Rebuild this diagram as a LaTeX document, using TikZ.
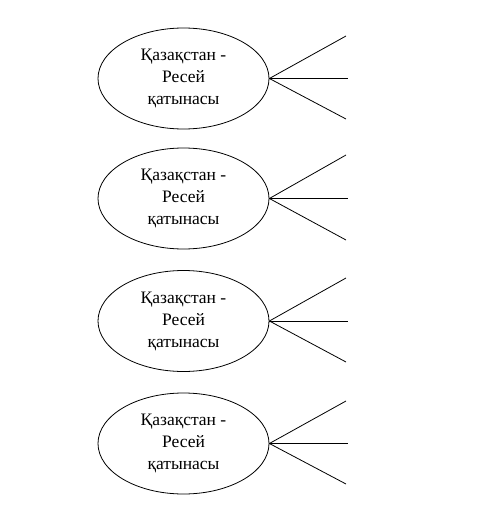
\documentclass[tikz,border=0pt]{standalone}
\usepackage{fontspec}
\setmainfont{Liberation Serif}
\usetikzlibrary{shapes.geometric}

\tikzset{
  relation/.style={draw, ellipse, line width=0.8pt, minimum width=171, minimum height=101,
    inner sep=0pt, align=center, font=\fontsize{17.5}{22}\selectfont},
  branch/.style={line width=0.8pt}
}

\begin{document}
\begin{tikzpicture}[x=1pt,y=1pt,yscale=-1]
\useasboundingbox (0,0) rectangle (493,522);

% Ellipses
\node [relation] (rel1) at (183.5,78.5) {Қазақстан -\\Ресей\\қатынасы};
\node [relation] (rel2) at (183.5,198.5) {Қазақстан -\\Ресей\\қатынасы};
\node [relation] (rel3) at (183.5,321) {Қазақстан -\\Ресей\\қатынасы};
\node [relation] (rel4) at (183.5,443.5) {Қазақстан -\\Ресей\\қатынасы};

% Free ends of the branches
\coordinate (top1) at (346,36);  \coordinate (mid1) at (348,78.5);  \coordinate (bot1) at (346,119);
\coordinate (top2) at (346,155); \coordinate (mid2) at (348,198.5); \coordinate (bot2) at (346,240);
\coordinate (top3) at (346,278); \coordinate (mid3) at (348,321);   \coordinate (bot3) at (346,362);
\coordinate (top4) at (346,401); \coordinate (mid4) at (348,443.5); \coordinate (bot4) at (346,484);

% Branches
\draw [branch] (rel1.east) -- (top1);
\draw [branch] (rel1.east) -- (mid1);
\draw [branch] (rel1.east) -- (bot1);
\draw [branch] (rel2.east) -- (top2);
\draw [branch] (rel2.east) -- (mid2);
\draw [branch] (rel2.east) -- (bot2);
\draw [branch] (rel3.east) -- (top3);
\draw [branch] (rel3.east) -- (mid3);
\draw [branch] (rel3.east) -- (bot3);
\draw [branch] (rel4.east) -- (top4);
\draw [branch] (rel4.east) -- (mid4);
\draw [branch] (rel4.east) -- (bot4);
\end{tikzpicture}
\end{document}
